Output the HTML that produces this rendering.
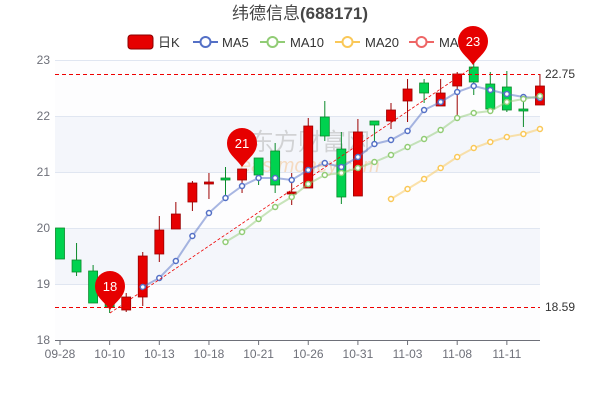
<!DOCTYPE html><html><head><meta charset="utf-8"><style>body{margin:0;background:#fff}svg{display:block;font-family:"Liberation Sans","Noto Sans CJK SC",sans-serif}</style></head><body>
<svg id="s" width="600" height="400" xmlns="http://www.w3.org/2000/svg">
<rect x="55" y="116" width="485" height="56" fill="#f4f6fb"/>
<rect x="55" y="228" width="485" height="56" fill="#f4f6fb"/>
<rect x="55" y="60" width="485" height="56" fill="#fdfdfe"/>
<rect x="55" y="172" width="485" height="56" fill="#fdfdfe"/>
<rect x="55" y="284" width="485" height="56" fill="#fdfdfe"/>
<g stroke="#e0e6f1" stroke-width="1">
<line x1="55" x2="540" y1="60.5" y2="60.5"/><line x1="55" x2="540" y1="116.5" y2="116.5"/><line x1="55" x2="540" y1="172.5" y2="172.5"/><line x1="55" x2="540" y1="228.5" y2="228.5"/><line x1="55" x2="540" y1="284.5" y2="284.5"/></g>
<line x1="55" x2="540" y1="340.5" y2="340.5" stroke="#6e7079"/>
<g font-size="12" fill="#6e7079" text-anchor="end"><text x="50" y="64">23</text><text x="50" y="120">22</text><text x="50" y="176">21</text><text x="50" y="232">20</text><text x="50" y="288">19</text><text x="50" y="344">18</text></g>
<text x="300" y="19" font-size="17" fill="#464646" text-anchor="middle">纬德信息<tspan font-weight="bold">(688171)</tspan></text>
<g font-size="13" fill="#333">
<rect x="128" y="35" width="25" height="14" rx="3" fill="#e60000" stroke="#8a0000"/><text x="158" y="47">日K</text>
<line x1="193" x2="218" y1="42" y2="42" stroke="#5470c6" stroke-width="2"/><circle cx="205.5" cy="42" r="5" fill="#fff" stroke="#5470c6" stroke-width="2"/><text x="222" y="47">MA5</text>
<line x1="260" x2="285" y1="42" y2="42" stroke="#91cc75" stroke-width="2"/><circle cx="272.5" cy="42" r="5" fill="#fff" stroke="#91cc75" stroke-width="2"/><text x="290" y="47">MA10</text>
<line x1="335" x2="360" y1="42" y2="42" stroke="#fac858" stroke-width="2"/><circle cx="347.5" cy="42" r="5" fill="#fff" stroke="#fac858" stroke-width="2"/><text x="365" y="47">MA20</text>
<line x1="409" x2="434" y1="42" y2="42" stroke="#ee6666" stroke-width="2"/><circle cx="421.5" cy="42" r="5" fill="#fff" stroke="#ee6666" stroke-width="2"/><text x="439" y="47">MA30</text>
</g>
<text x="250" y="150" font-size="24" fill="#bbb" opacity="0.6">东方财富网</text>
<text x="240" y="172" font-size="20" fill="#f5c99a" opacity="0.6" font-style="italic">eastmoney.com</text>
<g id="c"></g>
<line x1="55" x2="540" y1="74.5" y2="74.5" stroke="#e00" stroke-dasharray="4,3"/>
<line x1="55" x2="540" y1="307.5" y2="307.5" stroke="#e00" stroke-dasharray="4,3"/>
<line x1="110" y1="313" x2="473" y2="67" stroke="#e00" stroke-dasharray="3,2" stroke-width="0.8"/>
<text x="545" y="78" font-size="12" fill="#333">22.75</text>
<text x="545" y="311" font-size="12" fill="#333">18.59</text>
<g font-size="12" fill="#6e7079" text-anchor="middle" id="xl"></g>
</svg>
<script>
var S="http://www.w3.org/2000/svg",g=document.getElementById('c'),xl=document.getElementById('xl');
function X(i){return 60+16.55*i}
function el(t,a,p){var e=document.createElementNS(S,t);for(var k in a)e.setAttribute(k,a[k]);(p||g).appendChild(e);return e}
var C=[[0,228,259,228,259],[0,260,272,243,276],[0,271,303,265,303],[0,302,307,302,313],[1,297,310,293,312],[1,256,297,252,306],[1,230,254,216,262],[1,214,229,202,229],[1,183,202,181,211],[1,182,184,173,199],[0,178,180,167,197],[1,169,180,169,193],[0,158,175,158,185],[0,151,185,143,193],[1,192,194,173,205],[1,126,188,118,188],[0,117,136,101,141],[0,149,197,132,204],[1,132,196,119,196],[0,121,125,121,141],[1,110,121,103,129],[1,89,101,79,122],[0,83,93,79,103],[1,93,106,79,106],[1,74,86,72,115],[0,67,82,60,95],[0,84,109,72,109],[0,87,110,71,112],[0,109,111,100,127],[1,86,105,74,105]];
C.forEach(function(c,i){var x=X(i),col=c[0]?'#e60000':'#00d24f',st=c[0]?'#9c0000':'#0a8a2a';
el('line',{x1:x,x2:x,y1:c[3],y2:c[4],stroke:st,'stroke-width':1});
el('rect',{x:x-4.5,y:c[1],width:9,height:Math.max(c[2]-c[1],1.5),fill:col,stroke:st,'stroke-width':0.8});});
function ma(s,pts,col){var d='';pts.forEach(function(y,k){d+=(k?'L':'M')+X(s+k)+' '+y});
el('path',{d:d,fill:'none',stroke:col,'stroke-width':2,opacity:0.5});
pts.forEach(function(y,k){el('circle',{cx:X(s+k),cy:y,r:2.5,fill:'#fff',stroke:col,'stroke-width':1.5})});}
ma(5,[287,278,261,236,213,198,186,178,178,180,170,163,167,157,144,140,131,110,102,92,86,90,94,97,98],'#5470c6');
ma(10,[242,232,219,207,197,184,175,173,168,162,155,147,139,130,118,113,111,102,99,96],'#91cc75');
ma(20,[199,189,179,168,157,148,142,137,134,129],'#fac858');
function pin(x,y,t){el('path',{d:'M'+x+' '+(y+18)+' C'+(x-6)+' '+(y+9)+' '+(x-15)+' '+(y+5)+' '+(x-15)+' '+(y-6)+' A15 15 0 1 1 '+(x+15)+' '+(y-6)+' C'+(x+15)+' '+(y+5)+' '+(x+6)+' '+(y+9)+' '+x+' '+(y+18)+'Z',fill:'#e60000'});
var tx=el('text',{x:x,y:y-1,'text-anchor':'middle','font-size':13,fill:'#fff'});tx.textContent=t;}
pin(110,292,'18');pin(242,149,'21');pin(473,47,'23');
var L=['09-28','10-10','10-13','10-18','10-21','10-26','10-31','11-03','11-08','11-11'];
L.forEach(function(t,k){var x=X(k*3);el('line',{x1:x,x2:x,y1:340,y2:345,stroke:'#6e7079'});var e=el('text',{x:x,y:358},xl);e.textContent=t;});
</script>
</body></html>
